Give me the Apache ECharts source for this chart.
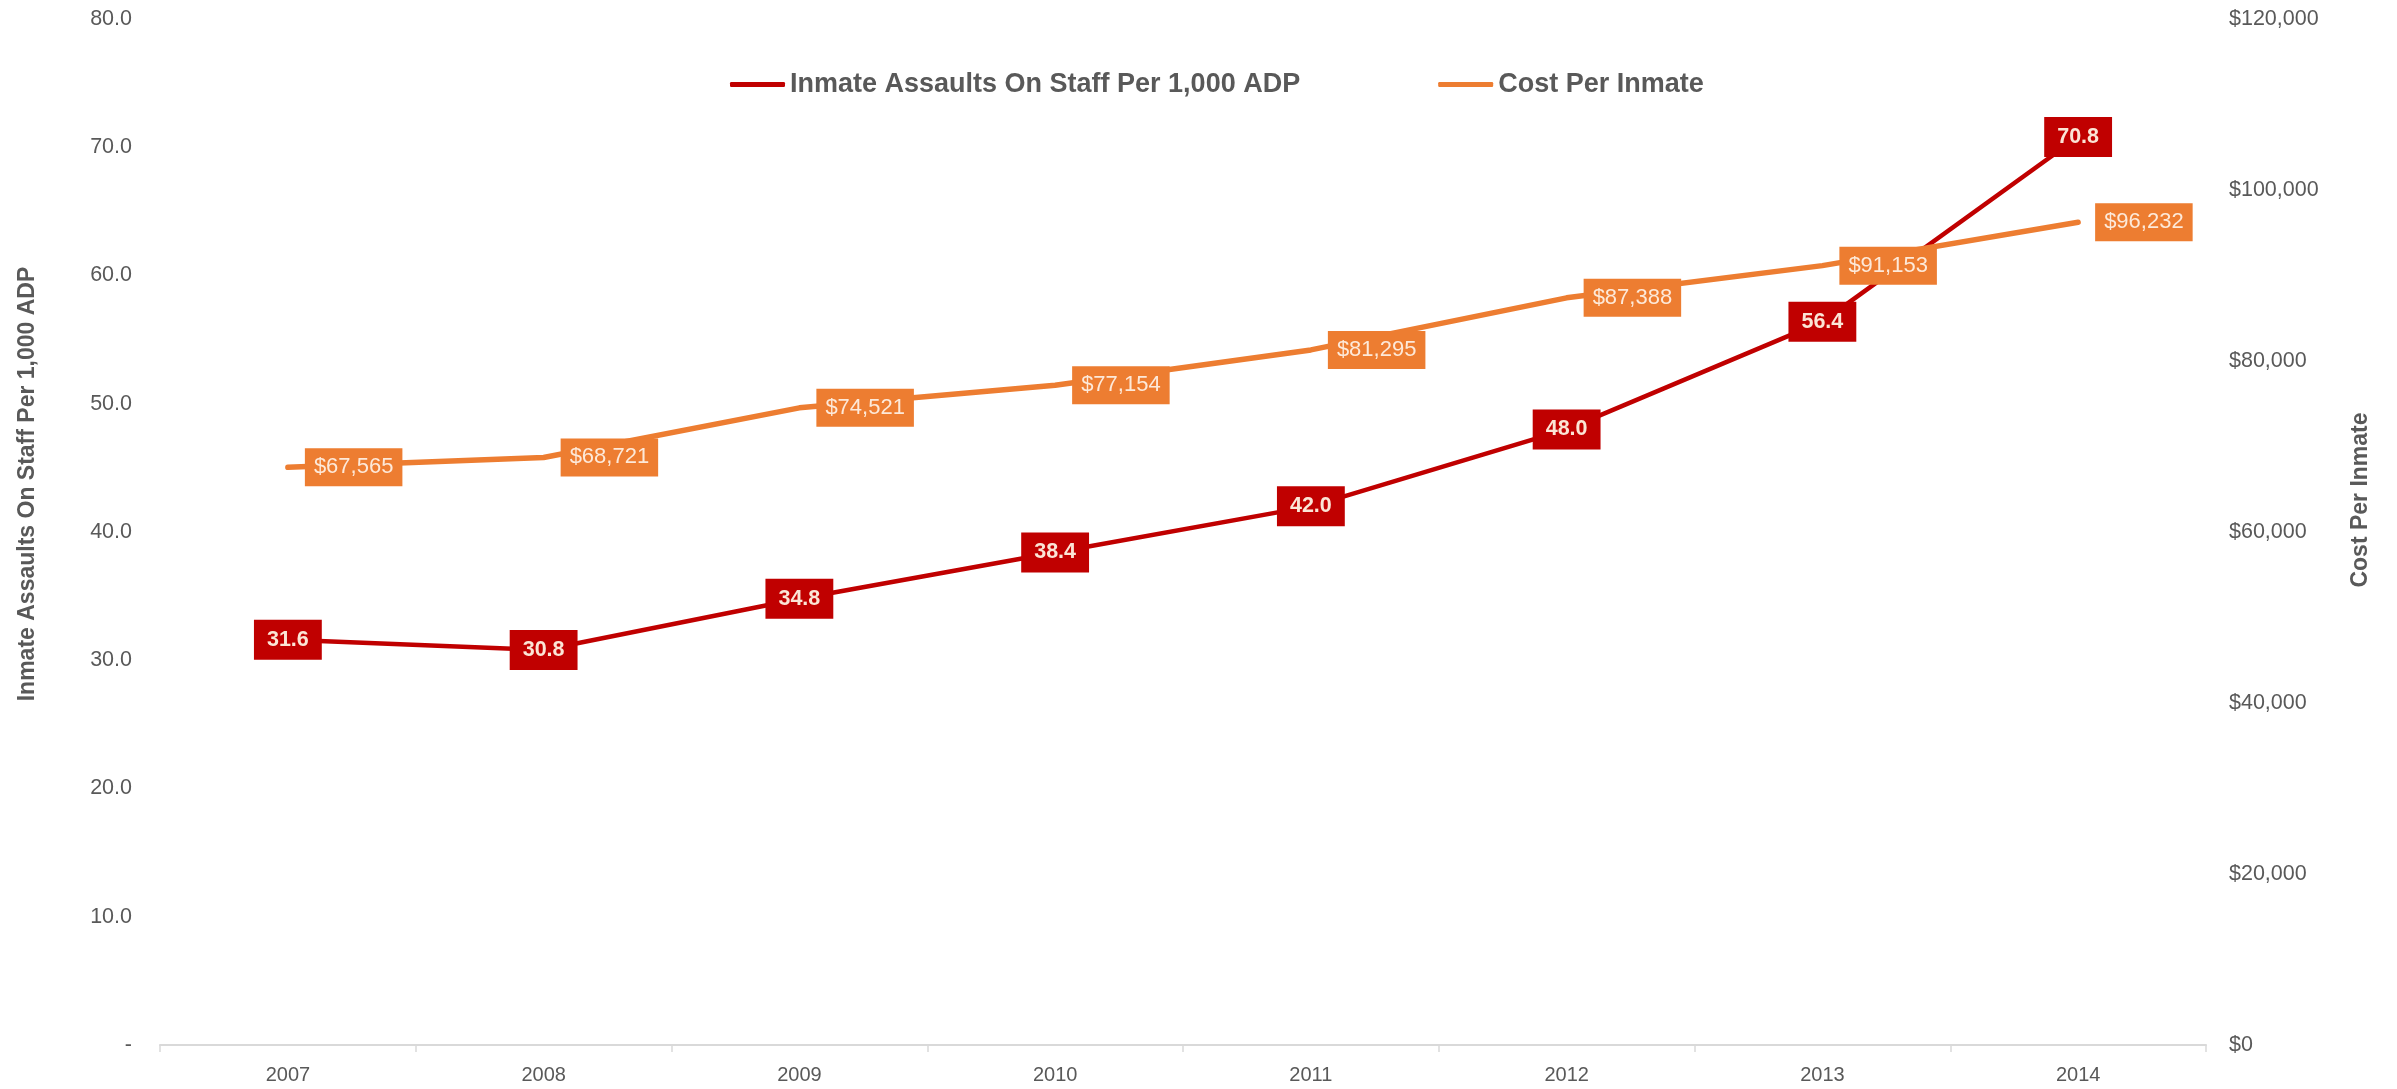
<!DOCTYPE html>
<html>
<head>
<meta charset="utf-8">
<script src="https://cdn.jsdelivr.net/npm/echarts@6/dist/echarts.min.js"></script>
<style>
html,body{margin:0;padding:0;background:#fff;}
#chart{width:2397px;height:1089px;}
</style>
</head>
<body>
<div id="chart"></div>
<script>
const years = ['2007','2008','2009','2010','2011','2012','2013','2014'];
const assaults = [31.6, 30.8, 34.8, 38.4, 42.0, 48.0, 56.4, 70.8];
const costPerInmate = [67565, 68721, 74521, 77154, 81295, 87388, 91153, 96232];
const seriesNames = ['Inmate Assaults On Staff Per 1,000 ADP', 'Cost Per Inmate'];

const FONT = "'Liberation Sans', Arial, sans-serif";
const chart = echarts.init(document.getElementById('chart'));
const fmtMoney = v => '$' + Math.round(v).toLocaleString('en-US');

chart.setOption({
  animation: false,
  textStyle: { fontFamily: FONT },
  grid: { left: 160, right: 191, top: 19, bottom: 44 },
  legend: {
    left: 725, top: 66,
    itemGap: 138, itemWidth: 55, itemHeight: 5,
    icon: 'roundRect',
    textStyle: { fontFamily: FONT, fontSize: 27, fontWeight: 'bold', color: '#595959' },
    data: seriesNames
  },
  xAxis: {
    type: 'category',
    data: years,
    boundaryGap: true,
    axisLine: { lineStyle: { color: '#d9d9d9', width: 2 } },
    axisTick: { show: true, length: 7, lineStyle: { color: '#d9d9d9', width: 1.5 } },
    axisLabel: { color: '#595959', fontSize: 20, margin: 20, fontFamily: FONT },
    splitLine: { show: false }
  },
  yAxis: [
    {
      type: 'value', min: 0, max: 80, interval: 10,
      name: seriesNames[0], nameLocation: 'middle', nameRotate: 90, nameGap: 121,
      nameTextStyle: { fontFamily: FONT, fontSize: 23, fontWeight: 'bold', color: '#595959', padding: [0, 0, 0, 96] },
      axisLine: { show: false }, axisTick: { show: false },
      splitLine: { show: false },
      axisLabel: { color: '#595959', fontSize: 21.5, margin: 28, fontFamily: FONT,
        formatter: v => v === 0 ? '-' : v.toFixed(1) }
    },
    {
      type: 'value', min: 0, max: 120000, interval: 20000, position: 'right',
      name: seriesNames[1], nameLocation: 'middle', nameRotate: 90, nameGap: 143,
      nameTextStyle: { fontFamily: FONT, fontSize: 23, fontWeight: 'bold', color: '#595959', padding: [0, 0, 0, 64] },
      axisLine: { show: false }, axisTick: { show: false },
      splitLine: { show: false },
      axisLabel: { color: '#595959', fontSize: 21.5, margin: 23, fontFamily: FONT,
        formatter: v => fmtMoney(v) }
    }
  ],
  series: [
    {
      name: seriesNames[0], type: 'line', yAxisIndex: 0, data: assaults,
      symbol: 'circle', symbolSize: 2, z: 2,
      itemStyle: { color: '#c00000' },
      lineStyle: { color: '#c00000', width: 4.5, cap: 'round', join: 'round' },
      label: {
        show: true, position: 'inside',
        formatter: p => p.value.toFixed(1),
        backgroundColor: '#c00000', color: '#fbe5d6',
        fontFamily: FONT, fontSize: 21.5, fontWeight: 'bold',
        lineHeight: 22, padding: [9, 13, 9, 13]
      }
    },
    {
      name: seriesNames[1], type: 'line', yAxisIndex: 1, data: costPerInmate,
      symbol: 'circle', symbolSize: 2, z: 3,
      itemStyle: { color: '#ed7d31' },
      lineStyle: { color: '#ed7d31', width: 5.5, cap: 'round', join: 'round' },
      label: {
        show: true, position: 'right', distance: 16,
        formatter: p => fmtMoney(p.value),
        backgroundColor: '#ed7d31', color: '#fde9d9',
        fontFamily: FONT, fontSize: 22,
        lineHeight: 22, padding: [8, 9, 8, 9]
      }
    }
  ]
});
</script>
</body>
</html>
